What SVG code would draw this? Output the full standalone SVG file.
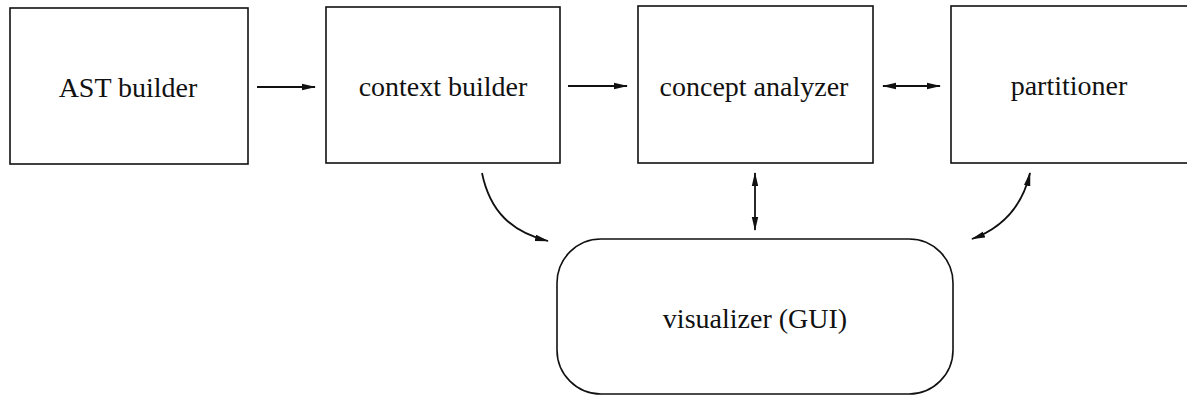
<svg xmlns="http://www.w3.org/2000/svg" width="1187" height="396" viewBox="0 0 1187 396">
  <style>
    .box { fill: #fff; stroke: #111; stroke-width: 1.6; }
    .label { font-family: "Liberation Serif", "Times New Roman", serif; font-size: 28px; fill: #111; text-anchor: middle; }
    .conn { fill: none; stroke: #111; stroke-width: 1.8; }
  </style>
  <defs>
    <marker id="head" viewBox="0 0 14 8" refX="13" refY="4" markerWidth="14" markerHeight="8" markerUnits="userSpaceOnUse" orient="auto-start-reverse">
      <path d="M0,0.8 L14,4 L0,7.2 Z" fill="#111"/>
    </marker>
  </defs>
  <rect width="1187" height="396" fill="#fff"/>

  <g id="ast-builder">
    <rect class="box" x="10" y="8" width="238" height="156"/>
    <text class="label" x="128" y="97">AST builder</text>
  </g>

  <g id="context-builder">
    <rect class="box" x="326" y="7" width="234" height="156"/>
    <text class="label" x="443" y="96">context builder</text>
  </g>

  <g id="concept-analyzer">
    <rect class="box" x="638" y="6" width="235" height="157"/>
    <text class="label" x="754" y="96">concept analyzer</text>
  </g>

  <g id="partitioner">
    <rect class="box" x="951" y="6" width="260" height="157"/>
    <text class="label" x="1069" y="95">partitioner</text>
  </g>

  <g id="visualizer">
    <rect class="box" x="557" y="239" width="396" height="155" rx="44" ry="44"/>
    <text class="label" x="755" y="328" font-size="26.5">visualizer (GUI)</text>
  </g>

  <g id="connectors">
    <line class="conn" x1="257" y1="87" x2="315" y2="87" marker-end="url(#head)"/>
    <line class="conn" x1="568" y1="86" x2="627" y2="86" marker-end="url(#head)"/>
    <line class="conn" x1="883" y1="86" x2="940" y2="86" marker-start="url(#head)" marker-end="url(#head)"/>
    <line class="conn" x1="755" y1="173" x2="755" y2="230" marker-start="url(#head)" marker-end="url(#head)"/>
    <path class="conn" d="M482,173 C490,212 512,232 548,241" marker-end="url(#head)"/>
    <path class="conn" d="M1030,173 C1022,208 1002,228 972,239" marker-start="url(#head)" marker-end="url(#head)"/>
  </g>
</svg>
